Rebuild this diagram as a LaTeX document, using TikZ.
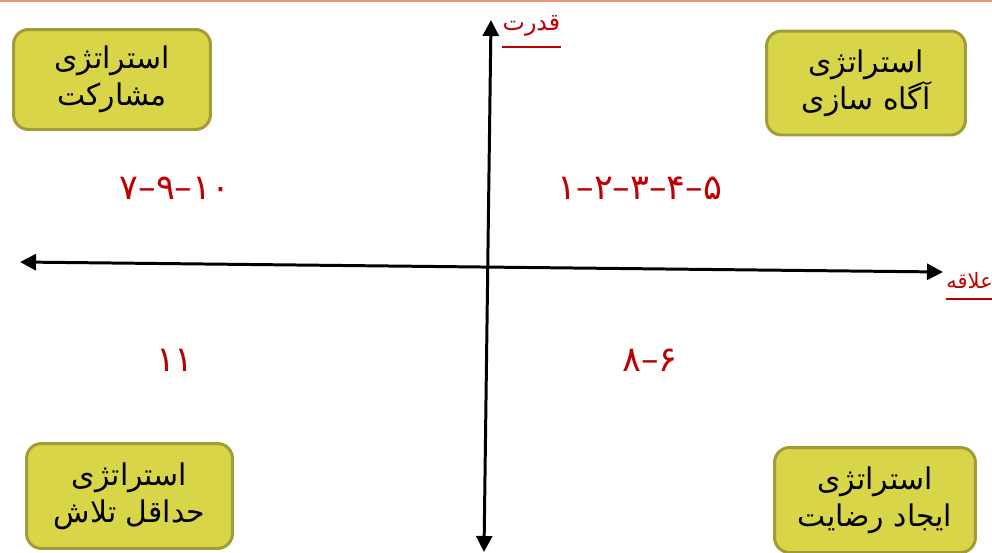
\documentclass[tikz,border=0pt]{standalone}
\usepackage{fontspec}
\newfontfamily\arabicfont[Script=Arabic]{DejaVu Sans}
\TeXXeTstate=1
\usetikzlibrary{arrows.meta}

\definecolor{boxfill}{RGB}{216,213,72}
\definecolor{boxline}{RGB}{160,156,56}
\definecolor{labelred}{RGB}{192,0,0}
\definecolor{topline}{RGB}{238,150,120}

\begin{document}
\begin{tikzpicture}[x=0.02cm, y=-0.02cm,
    strategy/.style={rectangle, draw=boxline, fill=boxfill, line width=1.7pt,
        rounded corners=0.3cm, align=center, inner sep=0pt,
        font=\arabicfont\fontsize{17}{21}\selectfont},
    axis/.style={line width=1.7pt, {Triangle[length=0.32cm, width=0.32cm]}-{Triangle[length=0.32cm, width=0.32cm]}},
    quarter/.style={text=labelred, font=\arabicfont\fontsize{20}{22}\selectfont},
    axislabel/.style={text=labelred, inner sep=0pt, inner ysep=0.2cm,
        font=\arabicfont\fontsize{13.5}{15}\selectfont},
    underline/.style={draw=labelred, line width=0.6pt}]
    \useasboundingbox (0,0) rectangle (992,552);
    \draw[topline, line width=1pt] (0,1) -- (992,1);

    % strategy boxes
    \node [strategy, minimum width=3.94cm, minimum height=2.0cm] (share) at (112,79.5)
        {\beginR استراتژی\endR\\\beginR مشارکت\endR};
    \node [strategy, minimum width=3.98cm, minimum height=2.08cm] (aware) at (866,83)
        {\beginR استراتژی\endR\\\beginR آگاه سازی\endR};
    \node [strategy, minimum width=4.12cm, minimum height=2.1cm] (least) at (129.5,496)
        {\beginR استراتژی\endR\\\beginR حداقل تلاش\endR};
    \node [strategy, minimum width=4.02cm, minimum height=2.1cm] (satisfy) at (875,500)
        {\beginR استراتژی\endR\\\beginR ایجاد رضایت\endR};

    % axes
    \coordinate (powertop) at (491,20);
    \coordinate (powerbottom) at (484,552);
    \coordinate (interestleft) at (20,262);
    \coordinate (interestright) at (943,272);
    \draw[axis] (powerbottom) -- (powertop);
    \draw[axis] (interestleft) -- (interestright);

    % axis labels
    \node [axislabel, anchor=south, minimum width=1.18cm] (power) at (531.5,47) {\beginR قدرت\endR};
    \draw[underline] (power.south west) -- (power.south east);
    \node [axislabel, anchor=south west, minimum width=0.9cm,
        font=\arabicfont\fontsize{12}{14}\selectfont] (interest) at (946,299) {\beginR علاقه\endR};
    \draw[underline] (interest.south west) -- (interest.south east);

    % stakeholders in each quarter
    \node [quarter] (q1) at (175,188) {\beginR ۱۰–۹–۷\endR};
    \node [quarter] (q2) at (640,188) {\beginR ۵–۴–۳–۲–۱\endR};
    \node [quarter] (q3) at (175,360) {\beginR ۱۱\endR};
    \node [quarter] (q4) at (650,360) {\beginR ۶–۸\endR};
\end{tikzpicture}
\end{document}
